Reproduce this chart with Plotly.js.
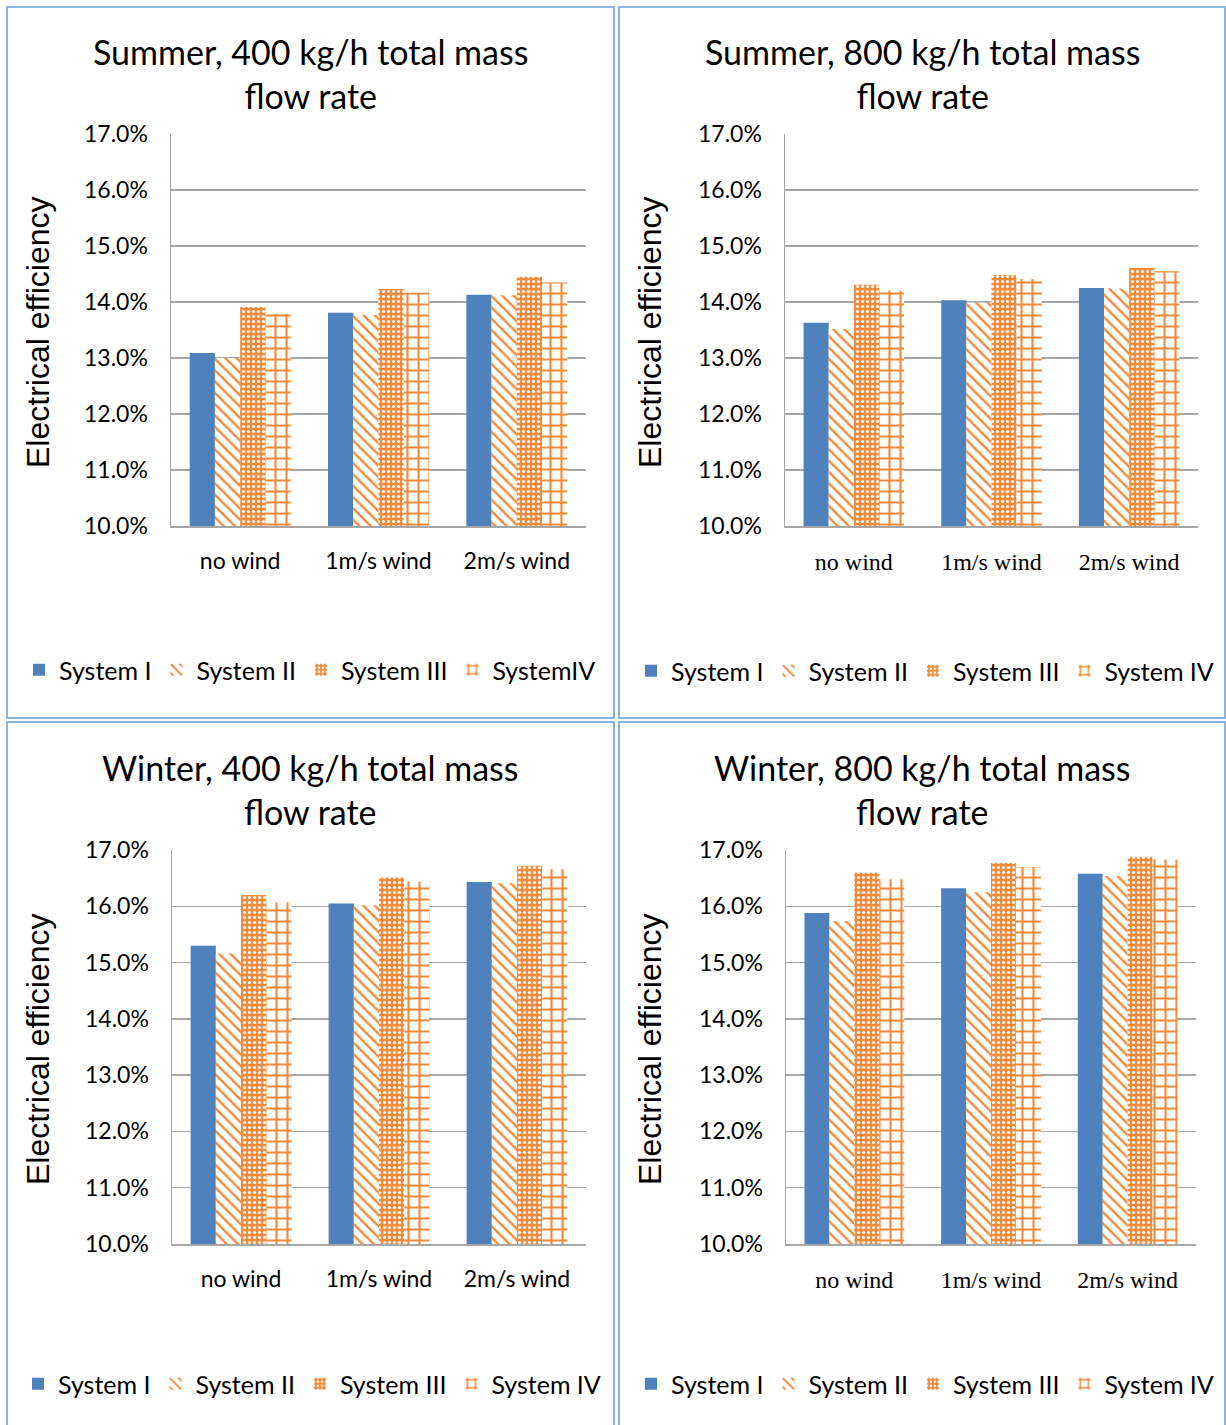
<!DOCTYPE html>
<html>
<head>
<meta charset="utf-8">
<script src="https://cdn.plot.ly/plotly-3.0.1.min.js"></script>
<style>
html,body{margin:0;padding:0;background:#fff;overflow:hidden;}
#chart{width:1226px;height:1425px;}
</style>
</head>
<body>
<div id="chart"></div>
<script>
// ---- data ----
const categories = ["no wind", "1m/s wind", "2m/s wind"];

const panelTitles = [
  "Summer, 400 kg/h total mass<br>flow rate",
  "Summer, 800 kg/h total mass<br>flow rate",
  "Winter, 400 kg/h total mass<br>flow rate",
  "Winter, 800 kg/h total mass<br>flow rate"
];

const legendNamesSummer400 = ["System I", "System II", "System III", "SystemIV"];
const legendNamesOther = ["System I", "System II", "System III", "System IV"];

const summer400_I   = [0.1309, 0.1381, 0.1413];
const summer400_II  = [0.1300, 0.1377, 0.1412];
const summer400_III = [0.1391, 0.1423, 0.1445];
const summer400_IV  = [0.1379, 0.1417, 0.1435];

const summer800_I   = [0.1363, 0.1403, 0.1425];
const summer800_II  = [0.1352, 0.1399, 0.1424];
const summer800_III = [0.1431, 0.1448, 0.1461];
const summer800_IV  = [0.1420, 0.1441, 0.1455];

const winter400_I   = [0.1530, 0.1605, 0.1643];
const winter400_II  = [0.1516, 0.1602, 0.1641];
const winter400_III = [0.1620, 0.1651, 0.1672];
const winter400_IV  = [0.1607, 0.1644, 0.1666];

const winter800_I   = [0.1588, 0.1632, 0.1658];
const winter800_II  = [0.1574, 0.1625, 0.1654];
const winter800_III = [0.1660, 0.1677, 0.1688];
const winter800_IV  = [0.1648, 0.1670, 0.1683];

const yTicks = [0.10, 0.11, 0.12, 0.13, 0.14, 0.15, 0.16, 0.17];

// ---- styling ----
const W = 1226, H = 1425;
const px = v => v / W;
const py = v => 1 - v / H;

const BLUE = "#4f81bd";
const ORANGE = "#f28a3a";
const GRID = "#a6a6a6";
const sans = "Lato, 'Open Sans', sans-serif";
const serif = "'Liberation Serif', 'DejaVu Serif', serif";

const panels = [
  {series: [summer400_I, summer400_II, summer400_III, summer400_IV], names: legendNamesSummer400,
   dx: [171, 586], dy: [134, 526], catFont: sans, catSize: 23, box: [7, 614, 7, 718], titleX: 310, legX: 19, legY: 670},
  {series: [summer800_I, summer800_II, summer800_III, summer800_IV], names: legendNamesOther,
   dx: [785, 1198], dy: [134, 526], catFont: serif, catSize: 24, box: [619, 1225, 7, 718], titleX: 922, legX: 631, legY: 671},
  {series: [winter400_I, winter400_II, winter400_III, winter400_IV], names: legendNamesOther,
   dx: [172, 586], dy: [850, 1244], catFont: sans, catSize: 23, box: [7, 614, 722, 1430], titleX: 310, legX: 18, legY: 1384},
  {series: [winter800_I, winter800_II, winter800_III, winter800_IV], names: legendNamesOther,
   dx: [786, 1196], dy: [850, 1244], catFont: serif, catSize: 24, box: [619, 1225, 722, 1430], titleX: 922, legX: 631, legY: 1384}
];

const markers = [
  {color: BLUE, line: {width: 0}},
  {color: "white", line: {width: 0}, pattern: {shape: "\\", fgcolor: ORANGE, bgcolor: "white", size: 8, solidity: 0.3, fillmode: "replace"}},
  {color: ORANGE, line: {width: 0}, pattern: {shape: ".", fgcolor: "white", bgcolor: ORANGE, size: 5, solidity: 0.3, fillmode: "replace"}},
  {color: "white", line: {width: 0}, pattern: {shape: "+", fgcolor: ORANGE, bgcolor: "white", size: 11, solidity: 0.35, fillmode: "replace"}}
];

const traces = [];
const layout = {
  width: W, height: H,
  autosize: false,
  margin: {l: 0, r: 0, t: 0, b: 0, pad: 0, autoexpand: false},
  paper_bgcolor: "white",
  plot_bgcolor: "white",
  bargap: 0.27,
  bargroupgap: 0,
  barmode: "group",
  shapes: [],
  annotations: [],
  font: {family: sans, color: "#000"}
};

panels.forEach((p, i) => {
  const suf = i === 0 ? "" : String(i + 1);
  const legKey = "legend" + suf;
  p.series.forEach((vals, s) => {
    traces.push({
      type: "bar",
      x: categories,
      y: vals,
      name: p.names[s],
      xaxis: "x" + suf,
      yaxis: "y" + suf,
      legend: legKey,
      marker: markers[s],
      hoverinfo: "skip"
    });
  });
  layout["xaxis" + suf] = {
    domain: [px(p.dx[0]), px(p.dx[1])],
    anchor: "y" + suf,
    showline: true, linecolor: GRID, linewidth: 1.5,
    ticks: "", showgrid: false,
    tickfont: {family: p.catFont, size: p.catSize, color: "#000"},
    ticklabelstandoff: 14,
    fixedrange: true
  };
  layout["yaxis" + suf] = {
    domain: [py(p.dy[1]), py(p.dy[0])],
    anchor: "x" + suf,
    range: [0.10, 0.17],
    tickvals: yTicks,
    tickformat: ".1%",
    showline: true, linecolor: GRID, linewidth: 1.5,
    showgrid: true, gridcolor: GRID, gridwidth: 1.3,
    zeroline: false,
    ticks: "",
    tickfont: {family: sans, size: 23, color: "#000"},
    ticklabelstandoff: 17,
    fixedrange: true
  };
  layout[legKey] = {
    orientation: "h",
    x: px(p.legX), xanchor: "left",
    y: py(p.legY), yanchor: "middle",
    font: {family: sans, size: 25, color: "#000"},
    bgcolor: "rgba(0,0,0,0)",
    itemwidth: 30,
    tracegroupgap: 0
  };
  layout.shapes.push({
    type: "rect", xref: "paper", yref: "paper",
    x0: px(p.box[0]), x1: px(p.box[1]), y0: py(p.box[3]), y1: py(p.box[2]),
    line: {color: "#8db3e2", width: 2}, fillcolor: "rgba(0,0,0,0)"
  });
  layout.annotations.push({
    text: panelTitles[i], xref: "paper", yref: "paper",
    x: px(p.titleX), y: py(p.box[2] + 67), xanchor: "center", yanchor: "middle",
    showarrow: false, font: {family: sans, size: 34, color: "#000"}, align: "center"
  });
  layout.annotations.push({
    text: "Electrical efficiency", xref: "paper", yref: "paper",
    x: px(p.box[0] + 31), y: py((p.dy[0] + p.dy[1]) / 2 + 2), xanchor: "center", yanchor: "middle",
    textangle: -90, showarrow: false,
    font: {family: "'Liberation Sans', Arial, sans-serif", size: 32, color: "#000"}
  });
});

Plotly.newPlot("chart", traces, layout, {displayModeBar: false, staticPlot: true});
</script>
</body>
</html>
